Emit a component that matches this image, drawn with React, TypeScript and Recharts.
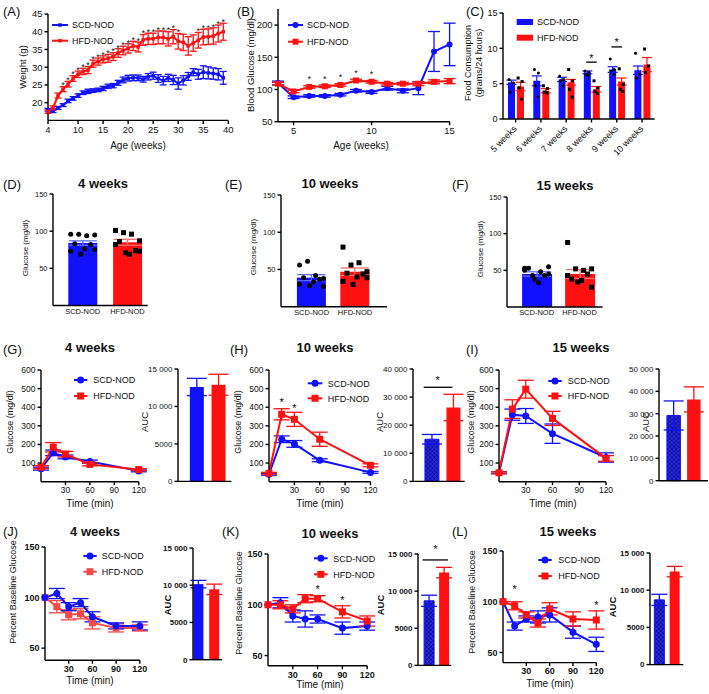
import React from 'react';
import { ComposedChart, Line, Bar, Scatter, XAxis, YAxis, ErrorBar, ReferenceLine, ReferenceDot } from 'recharts';

const FONT = '"Liberation Sans", Arial, Helvetica, sans-serif';
const BLUE = '#1111ff';
const RED = '#ff1111';
const RED_LIGHT = '#f24a4a';
const HATCH = 'url(#hatchBlue)';

// ---------- Panel A : body weight ----------
const aWeeks = [4,5,6,7,8,9,10,11,12,13,14,15,16,17,18,19,20,21,22,23,24,25,26,27,28,29,30,31,32,33,34,35,36,37,38,39];
const aSCD = [18,17.6,18.5,19.3,20.5,21.2,22,22.8,23.2,23.4,23.6,24,24.6,24.8,25.6,26.4,26.9,27,27,26.6,27.3,27.6,26.8,26.2,27,26.4,25.4,26.3,27.4,28.6,28,28.6,28.4,28.2,28,27];
const aSCDErr = [0.4,0.4,0.4,0.4,0.5,0.5,0.5,0.5,0.6,0.5,0.5,0.6,0.6,0.6,0.7,0.8,0.8,0.8,0.8,0.8,0.9,1,1.1,1.2,1,1.3,1.6,1.3,1.1,1,1.4,1.8,1.7,1.6,1.6,1.8];
const aHFD = [17.5,18.5,22,23.8,25.2,26.8,28,28.8,29.2,31,31.6,32.2,32.5,33,34,34.7,35.3,36,35.7,37.7,38,38,38.4,38.4,38,38.6,37.3,37,36,36.8,37.6,38.5,38.6,38.8,39.5,40];
const aHFDErr = [0.5,0.6,0.7,0.7,0.8,0.8,0.9,0.9,1,1,1,1,1.1,1.1,1.2,1.2,1.3,1.3,1.4,1.5,1.6,1.6,1.8,1.8,2,2,2.2,2.3,2.6,2.3,2.2,2.2,2.2,2.3,2.4,2.4];
const aSigWeeks = [7,8,9,10,11,12,13,14,15,16,17,18,19,20,21,22,23,24,25,26,27,28,29,30,34,35,36,37,38,39];

// ---------- Panel B : blood glucose ----------
const bWeeks = [4,5,6,7,8,9,10,11,12,13,14,15];
const bSCD = [110,88,90,90,92,98,96,102,98,102,159,170];
const bSCDErr = [3,2,2,2,2,2,2,3,3,10,31,33];
const bHFD = [109,97,104,105,107,114,112,109,109,109,112,113];
const bHFDErr = [2,2,2,2,2,2,2,2,2,3,3,4];
const bSigWeeks = [6,7,8,9,10];

// ---------- Panel C : food consumption ----------
const cWeeks = ['5 weeks','6 weeks','7 weeks','8 weeks','9 weeks','10 weeks'];
const cSCD = [5.2,5.4,5.6,6.6,7.0,6.9];
const cSCDErr = [0.3,0.7,0.3,0.2,0.4,0.6];
const cHFD = [4.6,4.0,5.2,4.2,5.3,7.7];
const cHFDErr = [0.6,0.3,0.4,0.4,0.5,1.0];
const cSCDPts = [[5.6,5.1,3.8],[7.0,6.5,4.7,3.2],[6.1,5.6,5.4,4.7],[6.8,6.6,6.3,6.2],[8.5,7.0,6.8,6.3],[9.3,6.3,5.8]];
const cHFDPts = [[5.8,5.3,4.4,2.8],[4.7,4.3,3.8,3.7],[7.0,5.4,4.2,3.1],[5.4,4.4,3.9,3.6],[7.1,4.9,4.2,3.9],[9.9,7.5,6.6]];
const cSig = [{idx: 3, y: 8.05, star: 8.9}, {idx: 4, y: 10.2, star: 11.2}];

// ---------- Panels D-F : fasting glucose ----------
const groups = ['SCD-NOD', 'HFD-NOD'];
const dMean = [84, 85]; const dErr = [3, 4];
const dSCDPts = [96,96,94,95,83,82,76,75,69,73];
const dHFDPts = [101,98,96,87,86,74,69,73,71,82];
const eMean = [39, 47]; const eErr = [4, 5];
const eSCDPts = [56,61,42,38,39,37,33,27,28,30];
const eHFDPts = [80,56,59,47,45,44,40,39,30,34];
const fMean = [45, 45]; const fErr = [3, 6];
const fSCDPts = [53,43,48,55,53,43,33,45,38,50];
const fHFDPts = [88,52,50,52,38,45,36,27,34,43];

// ---------- Panels G-I : GTT ----------
const gttTimes = [0,15,30,60,120];
const gSCD = [70,155,133,108,58]; const gSCDErr = [8,15,10,8,5];
const gHFD = [78,185,148,93,65]; const gHFDErr = [8,25,15,8,5];
const gAUC = [12600,12900]; const gAUCErr = [1150,1400];
const hSCD = [40,228,203,115,50]; const hSCDErr = [5,18,18,8,5];
const hHFD = [45,362,335,228,88]; const hHFDErr = [5,30,38,38,8];
const hAUC = [15000,26300]; const hAUCErr = [1700,4700];
const hStars = [{t: 15, y: 440}, {t: 30, y: 407}];
const iSCD = [48,360,353,258,130]; const iSCDErr = [5,30,40,52,25];
const iHFD = [48,390,497,340,125]; const iHFDErr = [5,50,48,38,15];
const iAUC = [29200,36400]; const iAUCErr = [6500,5600];

// ---------- Panels J-L : ITT ----------
const ittTimes = [0,15,30,45,60,90,120];
const jSCD = [100,104,91,95,81,72,72]; const jSCDErr = [0,5,4,4,5,3,4];
const jHFD = [100,91,83,84,75,70,70]; const jHFDErr = [0,6,5,5,6,4,3];
const jAUC = [10150,9450]; const jAUCErr = [500,700];
const kSCD = [100,102,89,86,86,77,79]; const kSCDErr = [0,5,6,8,4,6,4];
const kHFD = [100,100,96,106,106,93,84]; const kHFDErr = [0,4,4,4,3,6,5];
const kAUC = [8700,12500]; const kAUCErr = [750,700];
const kStars = [{t: 60, y: 118}, {t: 90, y: 107}];
const lSCD = [100,76,83,85,87,70,58]; const lSCDErr = [0,4,3,6,7,6,7];
const lHFD = [100,96,87,79,93,83,82]; const lHFDErr = [0,4,3,4,6,7,9];
const lAUC = [8700,12500]; const lAUCErr = [750,700];
const lStars = [{t: 15, y: 115}, {t: 120, y: 99}];

// ---------- helpers ----------
type Rect = { x0: number; y0: number; x1: number; y1: number };
const axisLine = { stroke: '#000', strokeWidth: 1.4 };

function frame(r: Rect, ml: number, mt: number, mr: number, mb: number) {
  return {
    style: { position: 'absolute' as const, left: r.x0 - ml, top: r.y0 - mt },
    width: r.x1 - r.x0 + ml + mr,
    height: r.y1 - r.y0 + mt + mb,
    margin: { top: mt, right: mr, bottom: 0, left: 0 },
    yw: ml,
    xh: mb,
  };
}

const thou = (v: number) => (v >= 10000 ? String(v).replace(/\B(?=(\d{3})+(?!\d))/g, '\u00A0') : String(v));

const marker = (kind: string, color: string, size: number) => (p: any) => {
  const { cx, cy, index } = p;
  if (cx == null || cy == null || isNaN(cy)) return <g key={'m' + index} />;
  return kind === 'circle'
    ? <circle key={'m' + index} cx={cx} cy={cy} r={size / 2} fill={color} />
    : <rect key={'m' + index} x={cx - size / 2} y={cy - size / 2} width={size} height={size} fill={color} />;
};

const starShape = (fs: number) => (p: any) => (
  <text x={p.cx} y={p.cy + fs * 0.55} textAnchor="middle" fontSize={fs} fontFamily={FONT} fill="#111">*</text>
);

const dotShape = (kind: string, size: number, jit: number[], off: number) => (p: any) => {
  const k = p.payload && p.payload.k != null ? p.payload.k : 0;
  const cx = p.cx + off + jit[k % jit.length];
  const cy = p.cy;
  return kind === 'circle'
    ? <circle cx={cx} cy={cy} r={size / 2} fill="#000" />
    : <rect x={cx - size / 2} y={cy - size / 2} width={size} height={size} fill="#000" />;
};

interface SeriesDef { key: string; err: string; color: string; marker: string; size: number; lw: number; cap: number }

function buildRows(xs: number[], s: number[], se: number[], h: number[], he: number[]) {
  return xs.map((x, i) => ({ x, scd: s[i], scdE: se[i], hfd: h[i], hfdE: he[i] }));
}

function LinePanel(p: {
  rect: Rect; data: any[]; xDomain: number[]; xTicks: number[]; yDomain: number[]; yTicks: number[];
  series: SeriesDef[]; stars?: { x: number; y: number }[]; tickFont: any; starSize?: number;
}) {
  const f = frame(p.rect, 36, 12, 10, 22);
  return (
    <div style={f.style}>
      <ComposedChart width={f.width} height={f.height} data={p.data} margin={f.margin}>
        <XAxis dataKey="x" type="number" domain={p.xDomain} ticks={p.xTicks} interval={0} height={f.xh}
          tick={p.tickFont} tickSize={3.5} axisLine={axisLine} tickLine={axisLine} />
        <YAxis type="number" domain={p.yDomain} ticks={p.yTicks} interval={0} width={f.yw}
          tick={p.tickFont} tickSize={3.5} axisLine={axisLine} tickLine={axisLine} />
        {p.series.map((s) => (
          <Line key={s.key} dataKey={s.key} stroke={s.color} strokeWidth={s.lw} dot={marker(s.marker, s.color, s.size)}
            activeDot={false} isAnimationActive={false}>
            <ErrorBar dataKey={s.err} stroke={s.color} width={s.cap} strokeWidth={1.3} direction="y" />
          </Line>
        ))}
        {(p.stars || []).map((s, i) => (
          <ReferenceDot key={'s' + i} x={s.x} y={s.y} r={1} ifOverflow="visible" shape={starShape(p.starSize || 11)} />
        ))}
      </ComposedChart>
    </div>
  );
}

function BarPanel(p: {
  rect: Rect; c: [number, number]; yDomain: number[]; yTicks: number[]; means: number[]; errs: number[];
  fills: string[]; strokes: string[]; errColors: string[]; barSize: number; labels?: string[]; pts?: number[][];
  tickFont: any; xFont?: any; fmt?: (v: number) => string; cap: number; dotSize?: number;
  sig?: { y: number; star: number; px: [number, number]; starPx: number };
}) {
  const { rect, c } = p;
  const unit = c[1] - c[0];
  const dmin = 0.5 - (c[0] - rect.x0) / unit;
  const dmax = 1.5 + (rect.x1 - c[1]) / unit;
  const toX = (px: number) => 0.5 + (px - c[0]) / unit;
  const data = [{ x: 0.5, a: p.means[0], aE: p.errs[0] }, { x: 1.5, b: p.means[1], bE: p.errs[1] }];
  const f = frame(rect, 38, 14, 6, p.labels ? 18 : 6);
  const jit = [-12, -4, 4, 12, -8, 8, 2, 12, -2, -12];
  const ds = p.dotSize || 5;
  const ptsA = p.pts ? p.pts[0].map((v, k) => ({ x: 0.5, y: v, k })) : [];
  const ptsB = p.pts ? p.pts[1].map((v, k) => ({ x: 1.5, y: v, k })) : [];
  const labels = p.labels || [];
  return (
    <div style={f.style}>
      <ComposedChart width={f.width} height={f.height} data={data} margin={f.margin}>
        <XAxis xAxisId="a" dataKey="x" type="number" domain={[dmin, dmax]} ticks={[0.5, 1.5]} interval={0}
          height={f.xh} tick={p.labels ? p.xFont : false} tickLine={false} axisLine={axisLine} tickSize={2}
          tickFormatter={(v: number) => labels[v < 1 ? 0 : 1] || ''} tickMargin={1} />
        <XAxis xAxisId="b" dataKey="x" type="number" domain={[dmin, dmax]} ticks={[0.5, 1.5]} hide />
        <YAxis type="number" domain={p.yDomain} ticks={p.yTicks} interval={0} width={f.yw}
          tick={p.tickFont} tickSize={3.5} axisLine={axisLine} tickLine={axisLine}
          tickFormatter={p.fmt || ((v: number) => String(v))} />
        <Bar xAxisId="a" dataKey="a" barSize={p.barSize} fill={p.fills[0]} stroke={p.strokes[0]} strokeWidth={1}
          isAnimationActive={false}>
          <ErrorBar dataKey="aE" stroke={p.errColors[0]} width={p.cap} strokeWidth={1.3} direction="y" />
        </Bar>
        <Bar xAxisId="b" dataKey="b" barSize={p.barSize} fill={p.fills[1]} stroke={p.strokes[1]} strokeWidth={1}
          isAnimationActive={false}>
          <ErrorBar dataKey="bE" stroke={p.errColors[1]} width={p.cap} strokeWidth={1.3} direction="y" />
        </Bar>
        {p.pts && (
          <Scatter xAxisId="a" data={ptsA} dataKey="y" shape={dotShape('circle', ds, jit, 0)} isAnimationActive={false} />
        )}
        {p.pts && (
          <Scatter xAxisId="a" data={ptsB} dataKey="y" shape={dotShape('square', ds, jit, 0)} isAnimationActive={false} />
        )}
        {p.sig && (
          <ReferenceLine xAxisId="a" ifOverflow="visible" stroke="#000" strokeWidth={1.3}
            segment={[{ x: toX(p.sig.px[0]), y: p.sig.y }, { x: toX(p.sig.px[1]), y: p.sig.y }]} />
        )}
        {p.sig && (
          <ReferenceDot xAxisId="a" x={toX(p.sig.starPx)} y={p.sig.star} r={1} ifOverflow="visible" shape={starShape(11)} />
        )}
      </ComposedChart>
    </div>
  );
}

function CPanel() {
  const rect = { x0: 503.3, y0: 13.3, x1: 655, y1: 119.3 };
  const f = frame(rect, 30, 10, 8, 48);
  const data = cWeeks.map((w, i) => ({ x: i + 0.5, scd: cSCD[i], scdE: cSCDErr[i], hfd: cHFD[i], hfdE: cHFDErr[i] }));
  const ptsA: any[] = []; const ptsB: any[] = [];
  cSCDPts.forEach((arr, i) => arr.forEach((v, k) => ptsA.push({ x: i + 0.5, y: v, k })));
  cHFDPts.forEach((arr, i) => arr.forEach((v, k) => ptsB.push({ x: i + 0.5, y: v, k })));
  const jit = [-2, 2, -1, 1.5, 0];
  const tickFont = { fontSize: 9, fill: '#111', fontFamily: FONT };
  const CTick = (t: any) => (
    <g transform={`translate(${t.x - 1},${t.y + 2})`}>
      <text transform="rotate(-45)" textAnchor="end" dy={4} fontSize={9} fontFamily={FONT} fill="#111">
        {cWeeks[Math.floor(t.payload.value)]}
      </text>
    </g>
  );
  return (
    <div style={f.style}>
      <ComposedChart width={f.width} height={f.height} data={data} margin={f.margin} barGap={2}>
        <XAxis dataKey="x" type="number" domain={[0, 6]} ticks={[0.5, 1.5, 2.5, 3.5, 4.5, 5.5]} interval={0}
          height={f.xh} tick={CTick} tickSize={3.5} axisLine={axisLine} tickLine={axisLine} />
        <YAxis type="number" domain={[0, 15]} ticks={[0, 5, 10, 15]} interval={0} width={f.yw}
          tick={tickFont} tickSize={3.5} axisLine={axisLine} tickLine={axisLine} />
        <Bar dataKey="scd" barSize={7} fill={BLUE} isAnimationActive={false}>
          <ErrorBar dataKey="scdE" stroke={BLUE} width={5} strokeWidth={1.2} direction="y" />
        </Bar>
        <Bar dataKey="hfd" barSize={7} fill={RED} isAnimationActive={false}>
          <ErrorBar dataKey="hfdE" stroke={RED} width={5} strokeWidth={1.2} direction="y" />
        </Bar>
        <Scatter data={ptsA} dataKey="y" shape={dotShape('circle', 3, jit, -4.5)} isAnimationActive={false} />
        <Scatter data={ptsB} dataKey="y" shape={dotShape('square', 3, jit, 4.5)} isAnimationActive={false} />
        {cSig.map((s) => (
          <ReferenceLine key={'l' + s.idx} ifOverflow="visible" stroke="#000" strokeWidth={1.3}
            segment={[{ x: s.idx + 0.29, y: s.y }, { x: s.idx + 0.71, y: s.y }]} />
        ))}
        {cSig.map((s) => (
          <ReferenceDot key={'d' + s.idx} x={s.idx + 0.5} y={s.star} r={1} ifOverflow="visible" shape={starShape(11)} />
        ))}
      </ComposedChart>
    </div>
  );
}

// ---------- overlay text helpers ----------
const T = (p: { x: number; y: number; s?: number; w?: string; a?: string; children: any }) => (
  <text x={p.x} y={p.y} fontSize={p.s || 10} fontWeight={p.w || 'normal'} textAnchor={(p.a as any) || 'start'} fill="#111">
    {p.children}
  </text>
);
const VT = (p: { x: number; y: number; s?: number; w?: string; children: any }) => (
  <text transform={`translate(${p.x},${p.y}) rotate(-90)`} textAnchor="middle" dominantBaseline="central"
    fontSize={p.s || 9} fontWeight={p.w || 'normal'} fill="#111">
    {p.children}
  </text>
);
const Leg = (p: { x1: number; x2: number; y: number; color: string; kind: string; size: number; tx: number; label: string; lw?: number }) => {
  const mx = (p.x1 + p.x2) / 2;
  return (
    <g>
      <line x1={p.x1} x2={p.x2} y1={p.y} y2={p.y} stroke={p.color} strokeWidth={p.lw || 2} />
      {p.kind === 'circle'
        ? <circle cx={mx} cy={p.y} r={p.size / 2} fill={p.color} />
        : <rect x={mx - p.size / 2} y={p.y - p.size / 2} width={p.size} height={p.size} fill={p.color} />}
      <text x={p.tx} y={p.y + 3.3} fontSize={9} fill="#111">{p.label}</text>
    </g>
  );
};

const sSeries = (color: string, kind: string, size: number, lw: number, cap: number): SeriesDef =>
  ({ key: 'scd', err: 'scdE', color, marker: kind, size, lw, cap });
const hSeries = (color: string, kind: string, size: number, lw: number, cap: number): SeriesDef =>
  ({ key: 'hfd', err: 'hfdE', color, marker: kind, size, lw, cap });

export default function App() {
  const fontAB = { fontSize: 9.5, fill: '#111', fontFamily: FONT };
  const fontDF = { fontSize: 7.5, fill: '#111', fontFamily: FONT };
  const fontG = { fontSize: 8.5, fill: '#111', fontFamily: FONT };
  const fontAUC = { fontSize: 8, fill: '#111', fontFamily: FONT };
  const fontJ = { fontSize: 9, fill: '#111', fontFamily: FONT, fontWeight: 'bold' };
  const fontJAUC = { fontSize: 8, fill: '#111', fontFamily: FONT, fontWeight: 'bold' };

  const aData = buildRows(aWeeks, aSCD, aSCDErr, aHFD, aHFDErr);
  const aStars = aSigWeeks.map((w) => { const i = aWeeks.indexOf(w); return { x: w, y: aHFD[i] + aHFDErr[i] + 0.9 }; });
  const bData = buildRows(bWeeks, bSCD, bSCDErr, bHFD, bHFDErr);
  const bStars = bSigWeeks.map((w) => { const i = bWeeks.indexOf(w); return { x: w, y: bHFD[i] + 15 }; });

  const gData = buildRows(gttTimes, gSCD, gSCDErr, gHFD, gHFDErr);
  const hData = buildRows(gttTimes, hSCD, hSCDErr, hHFD, hHFDErr);
  const iData = buildRows(gttTimes, iSCD, iSCDErr, iHFD, iHFDErr);
  const jData = buildRows(ittTimes, jSCD, jSCDErr, jHFD, jHFDErr);
  const kData = buildRows(ittTimes, kSCD, kSCDErr, kHFD, kHFDErr);
  const lData = buildRows(ittTimes, lSCD, lSCDErr, lHFD, lHFDErr);

  const gttSeries = [sSeries(BLUE, 'circle', 7, 2, 8), hSeries(RED, 'square', 7, 2, 8)];
  const jSeries = [hSeries(RED_LIGHT, 'square', 7, 2, 8), sSeries(BLUE, 'circle', 7, 2, 8)];
  const ittSeries = [sSeries(BLUE, 'circle', 7, 2, 8), hSeries(RED, 'square', 7, 2, 8)];

  const gttYTicks = [100, 200, 300, 400, 500, 600];
  const ittYTicks = [50, 100, 150];
  const tTicks = [30, 60, 90, 120];

  return (
    <div style={{ position: 'absolute', left: 0, top: 0, width: 709, height: 694, background: '#fff', overflow: 'hidden', fontFamily: FONT }}>
      <svg width={0} height={0} style={{ position: 'absolute' }}>
        <defs>
          <pattern id="hatchBlue" width="3" height="3" patternUnits="userSpaceOnUse" patternTransform="rotate(45)">
            <rect width="3" height="3" fill="#2a2ae8" />
            <line x1="0" y1="0" x2="0" y2="3" stroke="#00006a" strokeWidth="1.1" />
            <line x1="0" y1="0" x2="3" y2="0" stroke="#00006a" strokeWidth="1.1" />
          </pattern>
        </defs>
      </svg>

      {/* A */}
      <LinePanel rect={{ x0: 48, y0: 14.3, x1: 228.3, y1: 120.7 }} data={aData} xDomain={[4, 40]}
        xTicks={[4, 10, 15, 20, 25, 30, 35, 40]} yDomain={[15, 45]} yTicks={[20, 25, 30, 35, 40, 45]}
        series={[sSeries(BLUE, 'square', 3.5, 2, 3.5), hSeries(RED, 'square', 3.5, 2, 3.5)]} stars={aStars}
        tickFont={fontAB} starSize={9} />
      {/* B */}
      <LinePanel rect={{ x0: 277.7, y0: 9, x1: 449.3, y1: 121.7 }} data={bData} xDomain={[4, 15]}
        xTicks={[5, 10, 15]} yDomain={[50, 225]} yTicks={[50, 100, 150, 200]}
        series={[sSeries(BLUE, 'circle', 6, 2, 6), hSeries(RED, 'square', 6, 2, 6)]} stars={bStars}
        tickFont={fontAB} starSize={9} />
      {/* C */}
      <CPanel />

      {/* D E F */}
      <BarPanel rect={{ x0: 53.3, y0: 194, x1: 148, y1: 305.5 }} c={[83, 127.8]} yDomain={[0, 150]} yTicks={[50, 100, 150]}
        means={dMean} errs={dErr} fills={[BLUE, RED]} strokes={['none', 'none']} errColors={['#5b6cff', '#ff6b6b']}
        barSize={29} labels={groups} pts={[dSCDPts, dHFDPts]} tickFont={fontDF} xFont={fontDF} cap={14} />
      <BarPanel rect={{ x0: 280.7, y0: 195, x1: 386.7, y1: 306.7 }} c={[311.3, 354.7]} yDomain={[0, 150]} yTicks={[50, 100, 150]}
        means={eMean} errs={eErr} fills={[BLUE, RED]} strokes={['none', 'none']} errColors={['#5b6cff', '#ff6b6b']}
        barSize={29} labels={groups} pts={[eSCDPts, eHFDPts]} tickFont={fontDF} xFont={fontDF} cap={14} />
      <BarPanel rect={{ x0: 507.4, y0: 196.7, x1: 603, y1: 306.7 }} c={[537, 580]} yDomain={[0, 150]} yTicks={[50, 100, 150]}
        means={fMean} errs={fErr} fills={[BLUE, RED]} strokes={['none', 'none']} errColors={['#5b6cff', '#ff6b6b']}
        barSize={30} labels={groups} pts={[fSCDPts, fHFDPts]} tickFont={fontDF} xFont={fontDF} cap={14} />

      {/* G H I */}
      <LinePanel rect={{ x0: 40.5, y0: 370, x1: 138.3, y1: 481.7 }} data={gData} xDomain={[0, 120]} xTicks={tTicks}
        yDomain={[0, 600]} yTicks={gttYTicks} series={gttSeries} tickFont={fontG} />
      <BarPanel rect={{ x0: 178.3, y0: 369.3, x1: 231.7, y1: 481.7 }} c={[197, 218.7]} yDomain={[0, 15000]}
        yTicks={[0, 5000, 10000, 15000]} means={gAUC} errs={gAUCErr} fills={[BLUE, RED]} strokes={['none', 'none']}
        errColors={[BLUE, RED]} barSize={14} tickFont={fontAUC} fmt={thou} cap={10} />
      <LinePanel rect={{ x0: 268.5, y0: 370, x1: 370, y1: 481.7 }} data={hData} xDomain={[0, 120]} xTicks={tTicks}
        yDomain={[0, 600]} yTicks={gttYTicks} series={gttSeries} tickFont={fontG}
        stars={hStars.map((s) => ({ x: s.t, y: s.y }))} />
      <BarPanel rect={{ x0: 413.3, y0: 369.3, x1: 465, y1: 481.7 }} c={[432, 453.5]} yDomain={[0, 40000]}
        yTicks={[0, 10000, 20000, 30000, 40000]} means={hAUC} errs={hAUCErr} fills={[HATCH, RED]} strokes={[BLUE, 'none']}
        errColors={[BLUE, RED]} barSize={14} tickFont={fontAUC} fmt={thou} cap={10}
        sig={{ y: 33500, star: 36800, px: [424, 452.7], starPx: 438 }} />
      <LinePanel rect={{ x0: 499, y0: 370, x1: 606, y1: 481.7 }} data={iData} xDomain={[0, 120]} xTicks={tTicks}
        yDomain={[0, 600]} yTicks={gttYTicks} series={gttSeries} tickFont={fontG} />
      <BarPanel rect={{ x0: 659, y0: 369.3, x1: 708, y1: 481 }} c={[674, 694.2]} yDomain={[0, 50000]}
        yTicks={[0, 10000, 20000, 30000, 40000, 50000]} means={iAUC} errs={iAUCErr} fills={[HATCH, RED]} strokes={[BLUE, 'none']}
        errColors={[BLUE, RED]} barSize={13.5} tickFont={fontAUC} fmt={thou} cap={10} />

      {/* J K L */}
      <LinePanel rect={{ x0: 44.5, y0: 546.7, x1: 139.3, y1: 660 }} data={jData} xDomain={[0, 120]} xTicks={tTicks}
        yDomain={[38, 150]} yTicks={ittYTicks} series={jSeries} tickFont={fontJ} />
      <BarPanel rect={{ x0: 192.7, y0: 548.3, x1: 221.7, y1: 660 }} c={[198, 213.8]} yDomain={[0, 15000]}
        yTicks={[0, 5000, 10000, 15000]} means={jAUC} errs={jAUCErr} fills={[BLUE, RED]} strokes={['none', 'none']}
        errColors={[BLUE, RED]} barSize={10} tickFont={fontJAUC} fmt={thou} cap={8} />
      <LinePanel rect={{ x0: 267.5, y0: 554.3, x1: 366.7, y1: 666 }} data={kData} xDomain={[0, 120]} xTicks={tTicks}
        yDomain={[40, 150]} yTicks={ittYTicks} series={ittSeries} tickFont={fontJ}
        stars={kStars.map((s) => ({ x: s.t, y: s.y }))} />
      <BarPanel rect={{ x0: 417.7, y0: 554.3, x1: 451, y1: 665.7 }} c={[428.3, 443.3]} yDomain={[0, 15000]}
        yTicks={[0, 5000, 10000, 15000]} means={kAUC} errs={kAUCErr} fills={[HATCH, RED]} strokes={[BLUE, 'none']}
        errColors={[BLUE, RED]} barSize={10} tickFont={fontJAUC} fmt={thou} cap={8}
        sig={{ y: 14200, star: 15900, px: [422.3, 447.7], starPx: 435 }} />
      <LinePanel rect={{ x0: 502.7, y0: 550.7, x1: 596, y1: 662.3 }} data={lData} xDomain={[0, 120]} xTicks={tTicks}
        yDomain={[40, 150]} yTicks={ittYTicks} series={ittSeries} tickFont={fontJ}
        stars={lStars.map((s) => ({ x: s.t, y: s.y }))} />
      <BarPanel rect={{ x0: 650, y0: 552.7, x1: 683.3, y1: 664.3 }} c={[659, 674.3]} yDomain={[0, 15000]}
        yTicks={[0, 5000, 10000, 15000]} means={lAUC} errs={lAUCErr} fills={[HATCH, RED]} strokes={[BLUE, 'none']}
        errColors={[BLUE, RED]} barSize={10} tickFont={fontJAUC} fmt={thou} cap={8} />

      {/* overlay texts */}
      <svg width={709} height={694} style={{ position: 'absolute', left: 0, top: 0, pointerEvents: 'none' }} fontFamily={FONT}>
        {/* panel letters */}
        <T x={3} y={16} s={13}>(A)</T>
        <T x={237} y={16} s={13}>(B)</T>
        <T x={466} y={16} s={13}>(C)</T>
        <T x={3} y={189} s={13}>(D)</T>
        <T x={225} y={189} s={13}>(E)</T>
        <T x={452} y={189} s={13}>(F)</T>
        <T x={3} y={354} s={13}>(G)</T>
        <T x={230} y={354} s={13}>(H)</T>
        <T x={466} y={354} s={13}>(I)</T>
        <T x={3} y={536} s={13}>(J)</T>
        <T x={222} y={536} s={13}>(K)</T>
        <T x={452} y={536} s={13}>(L)</T>

        {/* titles */}
        <T x={103} y={188} s={13} w="bold" a="middle">4 weeks</T>
        <T x={330} y={188} s={13} w="bold" a="middle">10 weeks</T>
        <T x={565} y={190} s={13} w="bold" a="middle">15 weeks</T>
        <T x={90} y={352} s={13} w="bold" a="middle">4 weeks</T>
        <T x={325} y={352} s={13} w="bold" a="middle">10 weeks</T>
        <T x={581} y={352} s={13} w="bold" a="middle">15 weeks</T>
        <T x={95} y={536} s={13} w="bold" a="middle">4 weeks</T>
        <T x={330} y={538} s={13} w="bold" a="middle">10 weeks</T>
        <T x={568} y={536} s={13} w="bold" a="middle">15 weeks</T>

        {/* axis titles */}
        <VT x={22} y={67} s={9.5}>Weight (g)</VT>
        <T x={138} y={149} s={10} a="middle">Age (weeks)</T>
        <VT x={250} y={65} s={9.5}>Blood Glucose (mg/dl)</VT>
        <T x={361} y={149} s={10} a="middle">Age (weeks)</T>
        <VT x={468} y={63} s={9}>Food Consumption</VT>
        <VT x={478.5} y={63} s={9}>(grams/24 hours)</VT>

        <VT x={25} y={248} s={8}>Glucose (mg/dl)</VT>
        <VT x={253} y={247} s={8}>Glucose (mg/dl)</VT>
        <VT x={480} y={249} s={8}>Glucose (mg/dl)</VT>

        <VT x={10} y={422} s={9}>Glucose (mg/dl)</VT>
        <VT x={238} y={422} s={9}>Glucose (mg/dl)</VT>
        <VT x={471} y={422} s={9}>Glucose (mg/dl)</VT>
        <VT x={144} y={422} s={9.5}>AUC</VT>
        <VT x={379} y={422} s={9.5}>AUC</VT>
        <VT x={645} y={422} s={9.5}>AUC</VT>
        <T x={90} y={507} s={10} a="middle">Time (min)</T>
        <T x={320} y={507} s={10} a="middle">Time (min)</T>
        <T x={553} y={507} s={10} a="middle">Time (min)</T>

        <VT x={13} y={592} s={9}>Percent Baseline Glucose</VT>
        <VT x={239} y={603} s={9}>Percent Baseline Glucose</VT>
        <VT x={472} y={602} s={9}>Percent Baseline Glucose</VT>
        <VT x={167} y={605} s={9.5} w="bold">AUC</VT>
        <VT x={380} y={605} s={9.5} w="bold">AUC</VT>
        <VT x={612} y={607} s={9.5} w="bold">AUC</VT>
        <T x={90} y={684} s={10} a="middle">Time (min)</T>
        <T x={320} y={688} s={10} a="middle">Time (min)</T>
        <T x={550} y={687} s={10} a="middle">Time (min)</T>

        {/* legends */}
        <Leg x1={52} x2={68} y={25} color={BLUE} kind="square" size={3.5} tx={72} label="SCD-NOD" />
        <Leg x1={52} x2={68} y={40.7} color={RED} kind="square" size={3.5} tx={72} label="HFD-NOD" />
        <Leg x1={288} x2={303} y={25} color={BLUE} kind="circle" size={6} tx={307} label="SCD-NOD" />
        <Leg x1={288} x2={303} y={41.7} color={RED} kind="square" size={6} tx={307} label="HFD-NOD" />
        <rect x={516.7} y={19} width={16.3} height={6} fill={BLUE} />
        <text x={537} y={25.3} fontSize={9} fill="#111">SCD-NOD</text>
        <rect x={516.7} y={34.7} width={16.3} height={6} fill={RED} />
        <text x={537} y={41} fontSize={9} fill="#111">HFD-NOD</text>

        <Leg x1={74} x2={87.3} y={380} color={BLUE} kind="circle" size={7} tx={93.3} label="SCD-NOD" />
        <Leg x1={74} x2={87.3} y={396} color={RED} kind="square" size={7} tx={93.3} label="HFD-NOD" />
        <Leg x1={307.7} x2={322.3} y={383.3} color={BLUE} kind="circle" size={7} tx={327.7} label="SCD-NOD" />
        <Leg x1={307.7} x2={322.3} y={398.3} color={RED} kind="square" size={7} tx={327.7} label="HFD-NOD" />
        <Leg x1={548.3} x2={561.7} y={381} color={BLUE} kind="circle" size={7} tx={567.7} label="SCD-NOD" />
        <Leg x1={548.3} x2={561.7} y={396} color={RED} kind="square" size={7} tx={567.7} label="HFD-NOD" />

        <Leg x1={83.3} x2={96.7} y={556} color={BLUE} kind="circle" size={7} tx={101.7} label="SCD-NOD" />
        <Leg x1={83.3} x2={96.7} y={571.7} color={RED_LIGHT} kind="square" size={7} tx={101.7} label="HFD-NOD" />
        <Leg x1={314} x2={327.7} y={558.3} color={BLUE} kind="circle" size={7} tx={333.3} label="SCD-NOD" />
        <Leg x1={314} x2={327.7} y={574.3} color={RED} kind="square" size={7} tx={333.3} label="HFD-NOD" />
        <Leg x1={538.3} x2={551.7} y={560} color={BLUE} kind="circle" size={7} tx={558.3} label="SCD-NOD" />
        <Leg x1={538.3} x2={551.7} y={576} color={RED} kind="square" size={7} tx={558.3} label="HFD-NOD" />
      </svg>
    </div>
  );
}
